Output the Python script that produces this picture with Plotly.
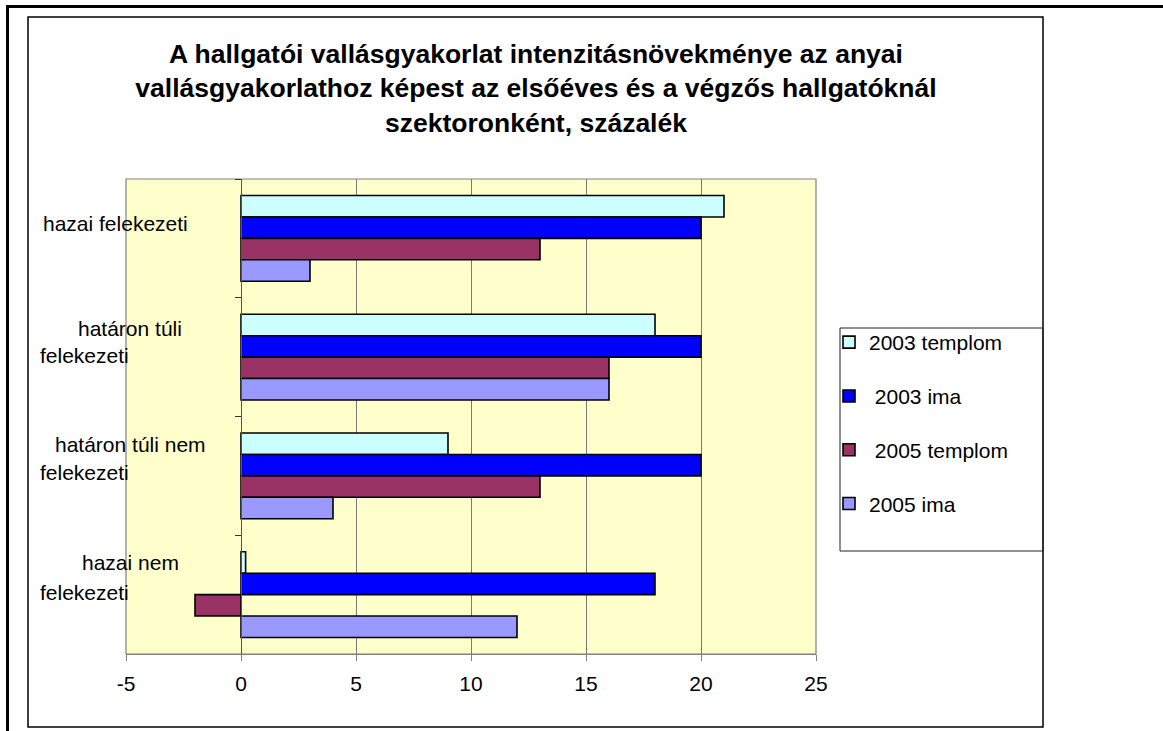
import plotly.graph_objects as go

# ---------------- data ----------------
categories = ["hazai felekezeti", "határon túli felekezeti",
              "határon túli nem felekezeti", "hazai nem felekezeti"]
series_names = ["2003 templom", "\u00a02003 ima", "\u00a02005 templom", "2005 ima"]
templom_2003 = [21, 18, 9, 0.2]
ima_2003 = [20, 20, 20, 18]
templom_2005 = [13, 16, 13, -2]
ima_2005 = [3, 16, 4, 12]
x_ticks = [-5, 0, 5, 10, 15, 20, 25]
x_tick_labels = ["-5", "0", "5", "10", "15", "20", "25"]
# how the category labels are wrapped in the original
label_lines = [["hazai felekezeti"], ["határon túli", "felekezeti"],
               ["határon túli nem", "felekezeti"], ["hazai nem", "felekezeti"]]

title_text = ("A hallgatói vallásgyakorlat intenzitásnövekménye az anyai<br>"
              "vallásgyakorlathoz képest az elsőéves és a végzős hallgatóknál<br>"
              "szektoronként, százalék")

# ---------------- style ----------------
colors = ["#CCFFFF", "#0000FF", "#993366", "#9999FF"]
FONT = "Arial, 'Liberation Sans', sans-serif"
W, H = 1163, 731
L, R, T, B = 126, 816, 179, 654   # plot area in pixels


def px_x(px):
    return (px - L) / (R - L)


def px_y(py):
    return (B - py) / (B - T)


fig = go.Figure()
for name, vals, col in zip(series_names,
                           [templom_2003, ima_2003, templom_2005, ima_2005],
                           colors):
    fig.add_trace(go.Bar(
        y=categories, x=vals, name=name, orientation="h",
        marker=dict(color=col, line=dict(color="black", width=1.6)),
        legendgroup=name,
    ))

# category labels (wrapped as in the original)
line_specs = [
    [(115, "center", 15)],
    [(130, "center", 29), (38, "left", 2)],
    [(130, "center", 31), (38, "left", 3)],
    [(130, "center", 32), (38, "left", 2)],
]
for cat, lines, specs in zip(categories, label_lines, line_specs):
    for txt, (xp, anc, ys) in zip(lines, specs):
        fig.add_annotation(
            x=px_x(xp), xref="paper", y=cat, yref="y", yshift=ys,
            text=txt, showarrow=False, xanchor=anc, yanchor="middle",
            font=dict(family=FONT, size=21, color="black"),
        )

shapes = [
    # page frame lines
    dict(type="line", xref="paper", yref="paper", x0=px_x(6), x1=px_x(1163),
         y0=px_y(6.5), y1=px_y(6.5), line=dict(color="black", width=3)),
    dict(type="line", xref="paper", yref="paper", x0=px_x(7.5), x1=px_x(7.5),
         y0=px_y(5), y1=px_y(731), line=dict(color="black", width=3)),
    # chart frame
    dict(type="rect", xref="paper", yref="paper", x0=px_x(28), x1=px_x(1043),
         y0=px_y(727), y1=px_y(17), line=dict(color="black", width=1.5)),
    # legend box
    dict(type="rect", xref="paper", yref="paper", x0=px_x(840), x1=px_x(1043),
         y0=px_y(551), y1=px_y(328), line=dict(color="#222222", width=1)),
    # plot area border
    dict(type="rect", xref="paper", yref="paper", x0=0, x1=1, y0=0, y1=1,
         line=dict(color="#808080", width=1.2), layer="below"),
]

fig.update_layout(
    width=W, height=H,
    margin=dict(l=L, r=W - R, t=T, b=H - B, pad=0),
    paper_bgcolor="white", plot_bgcolor="#FFFFCC",
    barmode="group", bargap=0.278, bargroupgap=0,
    font=dict(family=FONT, size=21, color="black"),
    title=dict(text=title_text, x=536 / W, xref="container", xanchor="center",
               y=1 - 63 / H, yref="container", yanchor="top",
               font=dict(family=FONT, size=26.5, color="black", weight="bold")),
    showlegend=True,
    legend=dict(x=px_x(829), y=px_y(322), xanchor="left", yanchor="top",
                xref="paper", yref="paper",
                bgcolor="rgba(0,0,0,0)", borderwidth=0,
                traceorder="grouped", tracegroupgap=23.5,
                font=dict(family=FONT, size=21, color="black")),
    xaxis=dict(range=[-5, 25], tickvals=x_ticks, ticktext=x_tick_labels,
               showgrid=True,
               gridcolor="#7a7a7a", gridwidth=1, zeroline=False,
               showline=True, linecolor="#808080", linewidth=1.2,
               ticks="outside", ticklen=6, tickcolor="#808080",
               ticklabelstandoff=5,
               tickfont=dict(family=FONT, size=21, color="black")),
    yaxis=dict(type="category", autorange="reversed", anchor="free",
               position=px_x(241), showticklabels=False, showgrid=False,
               zeroline=False, showline=True, linecolor="#555555",
               linewidth=1.2, ticks="outside", tickson="boundaries",
               ticklen=6, tickcolor="#333333"),
    shapes=shapes,
)

fig.write_html("out.html", config={"displayModeBar": False},
               post_script="document.body.style.margin='0';")
